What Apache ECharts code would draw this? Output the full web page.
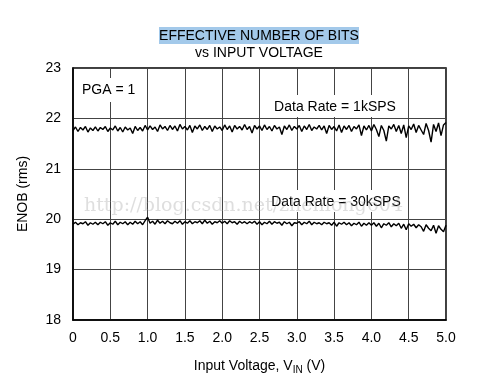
<!DOCTYPE html>
<html>
<head>
<meta charset="utf-8">
<script src="https://cdn.jsdelivr.net/npm/echarts@6/dist/echarts.min.js"></script>
<style>html,body{margin:0;padding:0;background:#fff;}#c{width:481px;height:389px;}</style>
</head>
<body>
<div id="c"></div>
<script>
// Sample grid: 151 samples from 0 V to 5 V
const sampleCount = 151;
const vinMax = 5.0;
const xTicks = ['0','0.5','1.0','1.5','2.0','2.5','3.0','3.5','4.0','4.5','5.0'];
const yTicks = [18,19,20,21,22,23];

// ENOB, Data Rate = 1kSPS
const enob1k = [
21.76,21.83,21.74,21.82,21.77,21.84,21.73,21.81,21.76,21.83,
21.75,21.82,21.78,21.84,21.74,21.81,21.77,21.85,21.75,21.82,
21.73,21.83,21.77,21.81,21.70,21.84,21.76,21.82,21.75,21.86,
21.77,21.85,21.78,21.83,21.74,21.87,21.79,21.84,21.76,21.86,
21.78,21.85,21.75,21.88,21.79,21.84,21.77,21.86,21.72,21.85,
21.79,21.87,21.76,21.84,21.78,21.86,21.74,21.85,21.79,21.83,
21.76,21.87,21.78,21.85,21.73,21.86,21.79,21.84,21.77,21.88,
21.78,21.84,21.71,21.86,21.79,21.85,21.76,21.87,21.78,21.84,
21.75,21.86,21.79,21.83,21.68,21.85,21.78,21.87,21.76,21.84,
21.79,21.86,21.74,21.85,21.78,21.88,21.76,21.83,21.79,21.86,
21.77,21.85,21.70,21.86,21.78,21.84,21.75,21.87,21.72,21.85,
21.78,21.86,21.74,21.84,21.79,21.87,21.66,21.85,21.77,21.86,
21.75,21.88,21.78,21.64,21.86,21.76,21.55,21.85,21.79,21.88,
21.74,21.86,21.70,21.87,21.62,21.85,21.78,21.89,21.72,21.86,
21.77,21.68,21.90,21.76,21.53,21.88,21.74,21.91,21.66,21.87,21.92
];

// ENOB, Data Rate = 30kSPS
const enob30k = [
19.90,19.94,19.89,19.93,19.91,19.95,19.88,19.93,19.90,19.94,
19.89,19.94,19.91,19.95,19.88,19.93,19.90,19.96,19.89,19.94,
19.91,19.95,19.89,19.94,19.90,19.96,19.91,19.95,19.89,19.97,
20.04,19.92,19.96,19.90,19.98,19.92,19.96,19.91,19.97,19.93,
19.91,19.96,19.92,19.97,19.90,19.95,19.92,19.97,19.91,19.95,
19.93,19.97,19.91,19.98,19.92,19.96,19.90,19.95,19.93,19.97,
19.92,19.96,19.91,19.97,19.93,19.95,19.90,19.96,19.92,19.95,
19.91,19.95,19.92,19.96,19.90,19.95,19.89,19.94,19.91,19.96,
19.90,19.95,19.92,19.94,19.88,19.95,19.91,19.94,19.87,19.93,
19.92,19.95,19.89,19.94,19.91,19.96,19.89,19.94,19.91,19.93,
19.89,19.94,19.91,19.93,19.88,19.94,19.86,19.93,19.90,19.94,
19.89,19.93,19.87,19.92,19.89,19.94,19.86,19.92,19.88,19.93,
19.88,19.93,19.86,19.92,19.83,19.91,19.88,19.93,19.85,19.91,
19.87,19.92,19.82,19.90,19.79,19.91,19.86,19.90,19.83,19.89,
19.85,19.76,19.89,19.82,19.77,19.88,19.72,19.87,19.80,19.75,19.88
];

const vin = enob1k.map((_, i) => i * vinMax / (sampleCount - 1));
const pts = arr => arr.map((v, i) => [vin[i], v]);

const FONT = '"Liberation Sans", Arial, Helvetica, sans-serif';
const chart = echarts.init(document.getElementById('c'), null, {renderer: 'canvas'});
chart.setOption({
  animation: false,
  backgroundColor: '#fff',
  grid: {left: 73, right: 35, top: 68, bottom: 69, show: true, borderColor: '#000', borderWidth: 1.5, backgroundColor: 'transparent'},
  xAxis: {
    type: 'value', min: 0, max: 5, interval: 0.5,
    axisLine: {show: true, lineStyle: {color: '#000', width: 1.5}},
    axisTick: {show: false},
    splitLine: {show: true, lineStyle: {color: '#444', width: 1}},
    axisLabel: {margin: 11, color: '#000', fontSize: 14, fontFamily: FONT,
      formatter: v => xTicks[Math.round(v * 2)]},
    name: '{a|Input Voltage, V}{s|IN}{a| (V)}',
    nameLocation: 'middle', nameGap: 37,
    nameTextStyle: {rich: {
      a: {fontSize: 14, fontFamily: FONT, color: '#000'},
      s: {fontSize: 10, fontFamily: FONT, color: '#000', verticalAlign: 'bottom', padding: [8, 0, 0, 0]}
    }}
  },
  yAxis: {
    type: 'value', min: 18, max: 23, interval: 1,
    axisLine: {show: true, lineStyle: {color: '#000', width: 1.5}},
    axisTick: {show: false},
    splitLine: {show: true, lineStyle: {color: '#444', width: 1}},
    axisLabel: {margin: 12, color: '#000', fontSize: 14, fontFamily: FONT,
      formatter: v => String(yTicks[Math.round(v - 18)])},
    name: 'ENOB (rms)', nameLocation: 'middle', nameGap: 43,
    nameTextStyle: {fontSize: 14, fontFamily: FONT, color: '#000'}
  },
  series: [
    {name: 'Data Rate = 1kSPS', type: 'line', data: pts(enob1k), symbol: 'none',
     lineStyle: {color: '#000', width: 1.4}, z: 3},
    {name: 'Data Rate = 30kSPS', type: 'line', data: pts(enob30k), symbol: 'none',
     lineStyle: {color: '#000', width: 1.4}, z: 3}
  ],
  graphic: [
    {type: 'rect', shape: {x: 159, y: 27, width: 200, height: 17}, style: {fill: '#a3c9ea'}, z: 1},
    {type: 'text', x: 259, y: 36, style: {text: 'EFFECTIVE NUMBER OF BITS', font: '14px ' + FONT, fill: '#000', align: 'center', verticalAlign: 'middle'}, z: 2},
    {type: 'text', x: 259, y: 53, style: {text: 'vs INPUT VOLTAGE', font: '14px ' + FONT, fill: '#000', align: 'center', verticalAlign: 'middle'}, z: 2},
    {type: 'rect', shape: {x: 76, y: 78, width: 68, height: 24}, style: {fill: '#fff'}, z: 50},
    {type: 'text', x: 82, y: 90, style: {text: 'PGA = 1', font: '14px ' + FONT, fill: '#000', align: 'left', verticalAlign: 'middle'}, z: 51},
    {type: 'rect', shape: {x: 268, y: 95, width: 138, height: 22}, style: {fill: '#fff'}, z: 50},
    {type: 'text', x: 335, y: 107, style: {text: 'Data Rate = 1kSPS', font: '14px ' + FONT, fill: '#000', align: 'center', verticalAlign: 'middle'}, z: 51},
    {type: 'rect', shape: {x: 268, y: 190, width: 136, height: 22}, style: {fill: '#fff'}, z: 50},
    {type: 'text', x: 336, y: 202, style: {text: 'Data Rate = 30kSPS', font: '14px ' + FONT, fill: '#000', align: 'center', verticalAlign: 'middle'}, z: 51},
    {type: 'text', x: 84, y: 206, style: {text: 'http://blog.csdn.net/zhenlong604', font: '19px "DejaVu Serif", serif', fill: 'rgba(160,160,160,0.35)', align: 'left', verticalAlign: 'middle'}, z: 60}
  ]
});
</script>
</body>
</html>
